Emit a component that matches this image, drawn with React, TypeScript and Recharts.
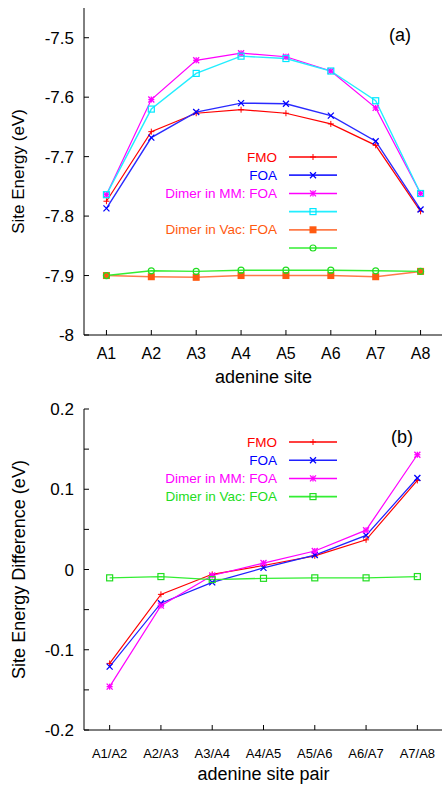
import React from 'react';
import { LineChart, Line, XAxis, YAxis, Legend, Label } from 'recharts';

// ---------- data: panel (a) ----------
const siteLabels = ['A1', 'A2', 'A3', 'A4', 'A5', 'A6', 'A7', 'A8'];
const siteFMO = [-7.775, -7.658, -7.627, -7.621, -7.627, -7.645, -7.681, -7.792];
const siteFOA = [-7.787, -7.668, -7.625, -7.610, -7.611, -7.631, -7.674, -7.789];
const siteMM = [-7.764, -7.604, -7.538, -7.526, -7.532, -7.556, -7.618, -7.762];
const siteMM2 = [-7.764, -7.620, -7.560, -7.531, -7.535, -7.556, -7.606, -7.762];
const siteVac = [-7.900, -7.902, -7.903, -7.900, -7.900, -7.900, -7.902, -7.893];
const siteVac2 = [-7.900, -7.892, -7.893, -7.891, -7.891, -7.891, -7.892, -7.893];
const siteYTicks = [-8, -7.9, -7.8, -7.7, -7.6, -7.5];
const siteYTickLabels = ['-8', '-7.9', '-7.8', '-7.7', '-7.6', '-7.5'];
const siteXTicks = [1, 2, 3, 4, 5, 6, 7, 8];

// ---------- data: panel (b) ----------
const pairLabels = ['A1/A2', 'A2/A3', 'A3/A4', 'A4/A5', 'A5/A6', 'A6/A7', 'A7/A8'];
const pairFMO = [-0.117, -0.031, -0.006, 0.005, 0.017, 0.037, 0.111];
const pairFOA = [-0.121, -0.042, -0.016, 0.002, 0.018, 0.0425, 0.114];
const pairMM = [-0.146, -0.045, -0.0075, 0.008, 0.023, 0.049, 0.143];
const pairVac = [-0.0104, -0.0088, -0.0125, -0.011, -0.0104, -0.0104, -0.0088];
const pairYTicks = [-0.2, -0.15, -0.1, -0.05, 0, 0.05, 0.1, 0.15, 0.2];
const pairYTickLabels = ['-0.2', '', '-0.1', '', '0', '', '0.1', '', '0.2'];
const pairXTicks = [1, 2, 3, 4, 5, 6, 7];

const FONT = '"Liberation Sans", Arial, Helvetica, sans-serif';

type MarkerType = 'plus' | 'cross' | 'star' | 'boxOpen' | 'boxFilled' | 'circleOpen';

interface SeriesDef {
  key: string;
  name: string;
  color: string;
  lineColor: string;
  marker: MarkerType;
  width: number;
}

const topSeries: SeriesDef[] = [
  { key: 'fmo', name: 'FMO', color: '#ff0000', lineColor: '#ff0000', marker: 'plus', width: 1.2 },
  { key: 'foa', name: 'FOA', color: '#0000ff', lineColor: '#2a2aff', marker: 'cross', width: 1.4 },
  { key: 'mm', name: 'Dimer in MM: FOA', color: '#ff00ff', lineColor: '#ff00ff', marker: 'star', width: 1.2 },
  { key: 'mm2', name: '', color: '#00e8ff', lineColor: '#22eeff', marker: 'boxOpen', width: 1.4 },
  { key: 'vac', name: 'Dimer in Vac: FOA', color: '#ff5a10', lineColor: '#ff7a48', marker: 'boxFilled', width: 1.5 },
  { key: 'vac2', name: '', color: '#22dd22', lineColor: '#33ee33', marker: 'circleOpen', width: 1.4 },
];

const bottomSeries: SeriesDef[] = [
  { key: 'fmo', name: 'FMO', color: '#ff0000', lineColor: '#ff0000', marker: 'plus', width: 1.2 },
  { key: 'foa', name: 'FOA', color: '#0000ff', lineColor: '#2020ff', marker: 'cross', width: 1.2 },
  { key: 'mm', name: 'Dimer in MM: FOA', color: '#ff00ff', lineColor: '#ff00ff', marker: 'star', width: 1.2 },
  { key: 'vac', name: 'Dimer in Vac: FOA', color: '#22dd22', lineColor: '#33ee33', marker: 'boxOpen', width: 1.3 },
];

const topData = siteLabels.map((label, i) => ({
  x: i + 1,
  label,
  fmo: siteFMO[i],
  foa: siteFOA[i],
  mm: siteMM[i],
  mm2: siteMM2[i],
  vac: siteVac[i],
  vac2: siteVac2[i],
}));

const bottomData = pairLabels.map((label, i) => ({
  x: i + 1,
  label,
  fmo: pairFMO[i],
  foa: pairFOA[i],
  mm: pairMM[i],
  vac: pairVac[i],
}));

function Marker({ type, x, y, color }: { type: MarkerType; x: number; y: number; color: string }) {
  const s = 3;
  switch (type) {
    case 'plus':
      return (
        <g stroke={color} strokeWidth={1}>
          <line x1={x - s} y1={y} x2={x + s} y2={y} />
          <line x1={x} y1={y - s} x2={x} y2={y + s} />
        </g>
      );
    case 'cross':
      return (
        <g stroke={color} strokeWidth={1.3}>
          <line x1={x - s} y1={y - s} x2={x + s} y2={y + s} />
          <line x1={x - s} y1={y + s} x2={x + s} y2={y - s} />
        </g>
      );
    case 'star':
      return (
        <g stroke={color} strokeWidth={1.3}>
          <line x1={x - s} y1={y} x2={x + s} y2={y} />
          <line x1={x} y1={y - s} x2={x} y2={y + s} />
          <line x1={x - s} y1={y - s} x2={x + s} y2={y + s} />
          <line x1={x - s} y1={y + s} x2={x + s} y2={y - s} />
        </g>
      );
    case 'boxOpen':
      return <rect x={x - 3} y={y - 3} width={6} height={6} fill="none" stroke={color} strokeWidth={1.2} />;
    case 'boxFilled':
      return <rect x={x - 3.5} y={y - 3.5} width={7} height={7} fill={color} stroke="none" />;
    case 'circleOpen':
      return <circle cx={x} cy={y} r={3} fill="none" stroke={color} strokeWidth={1.2} />;
    default:
      return null;
  }
}

function makeDot(def: SeriesDef) {
  return (props: any) => {
    const { cx, cy, index } = props;
    if (cx == null || cy == null) return <g key={`${def.key}-${index}`} />;
    return (
      <g key={`${def.key}-${index}`}>
        <Marker type={def.marker} x={cx} y={cy} color={def.color} />
      </g>
    );
  };
}

function LegendBox({ series }: { series: SeriesDef[] }) {
  const rowH = 18.2;
  const textRight = 97;
  const lineStart = 109;
  const lineEnd = 157;
  const h = series.length * rowH + 4;
  return (
    <svg width={170} height={h} style={{ display: 'block', overflow: 'visible' }}>
      {series.map((s, i) => {
        const y = 9 + i * rowH;
        return (
          <g key={s.key}>
            {s.name ? (
              <text
                x={textRight}
                y={y}
                textAnchor="end"
                dominantBaseline="central"
                fill={s.color}
                fontSize={13.5}
                fontFamily={FONT}
              >
                {s.name}
              </text>
            ) : null}
            <line x1={lineStart} y1={y} x2={lineEnd} y2={y} stroke={s.lineColor} strokeWidth={s.width + 0.3} />
            <Marker type={s.marker} x={(lineStart + lineEnd) / 2} y={y} color={s.color} />
          </g>
        );
      })}
    </svg>
  );
}

const tickStyle = (size: number) => ({ fill: '#000', fontSize: size, fontFamily: FONT });

function YTitle({ viewBox, text, size }: any) {
  const cx = 18.5;
  const cy = viewBox.y + viewBox.height / 2;
  return (
    <text
      x={cx}
      y={cy}
      transform={`rotate(-90 ${cx} ${cy})`}
      textAnchor="middle"
      dominantBaseline="central"
      fontSize={size}
      fontFamily={FONT}
      fill="#000"
    >
      {text}
    </text>
  );
}

export default function App() {
  return (
    <div
      style={{
        position: 'absolute',
        left: 0,
        top: 0,
        width: 442,
        height: 785,
        overflow: 'hidden',
        background: '#fff',
      }}
    >
      <div style={{ position: 'absolute', left: 0, top: 0 }}>
        <LineChart width={452} height={392} data={topData} margin={{ top: 8, right: 9, left: 0, bottom: 0 }}>
          <XAxis
            xAxisId="b"
            dataKey="x"
            type="number"
            domain={[0.5, 8.5]}
            ticks={siteXTicks}
            allowDataOverflow
            height={57}
            tickSize={-5}
            tickMargin={18}
            stroke="#000"
            tick={tickStyle(16)}
            tickFormatter={(v: number) => siteLabels[v - 1] ?? ''}
          >
            <Label value="adenine site" position="insideBottom" offset={9} fontSize={18} fontFamily={FONT} fill="#000" />
          </XAxis>
          <XAxis
            xAxisId="t"
            orientation="top"
            dataKey="x"
            type="number"
            domain={[0.5, 8.5]}
            ticks={siteXTicks}
            allowDataOverflow
            height={0}
            tickSize={-5}
            stroke="#000"
            tickFormatter={() => ''}
          />
          <YAxis
            yAxisId="l"
            type="number"
            domain={[-8, -7.45]}
            ticks={siteYTicks}
            allowDataOverflow
            width={84}
            tickSize={-5}
            tickMargin={15}
            stroke="#000"
            tick={tickStyle(17)}
            tickFormatter={(v: number) => siteYTickLabels[siteYTicks.indexOf(v)] ?? ''}
          >
            <Label content={(p: any) => <YTitle {...p} text="Site Energy (eV)" size={17} />} />
          </YAxis>
          <YAxis
            yAxisId="r"
            orientation="right"
            type="number"
            domain={[-8, -7.45]}
            ticks={siteYTicks}
            allowDataOverflow
            width={0}
            tickSize={-5}
            stroke="#000"
            tickFormatter={() => ''}
          />
          {topSeries.map((s) => (
            <Line
              key={s.key}
              xAxisId="b"
              yAxisId="l"
              dataKey={s.key}
              name={s.name || s.key}
              stroke={s.lineColor}
              strokeWidth={s.width}
              dot={makeDot(s)}
              activeDot={false}
              isAnimationActive={false}
            />
          ))}
          <Legend
            layout="vertical"
            align="center"
            verticalAlign="middle"
            wrapperStyle={{ left: 180, top: 148, width: 170, height: 115 }}
            content={() => <LegendBox series={topSeries} />}
          />
          <text x={400} y={35} textAnchor="middle" dominantBaseline="central" fontSize={18} fontFamily={FONT} fill="#000">
            (a)
          </text>
        </LineChart>
      </div>
      <div style={{ position: 'absolute', left: 0, top: 380 }}>
        <LineChart width={452} height={405} data={bottomData} margin={{ top: 29, right: 9, left: 0, bottom: 0 }}>
          <XAxis
            xAxisId="b"
            dataKey="x"
            type="number"
            domain={[0.5, 7.5]}
            ticks={pairXTicks}
            allowDataOverflow
            height={55}
            tickSize={-5}
            tickMargin={24}
            stroke="#000"
            tick={tickStyle(13)}
            tickFormatter={(v: number) => pairLabels[v - 1] ?? ''}
          >
            <Label value="adenine site pair" position="insideBottom" offset={5} fontSize={18} fontFamily={FONT} fill="#000" />
          </XAxis>
          <XAxis
            xAxisId="t"
            orientation="top"
            dataKey="x"
            type="number"
            domain={[0.5, 7.5]}
            ticks={pairXTicks}
            allowDataOverflow
            height={0}
            tickSize={-5}
            stroke="#000"
            tickFormatter={() => ''}
          />
          <YAxis
            yAxisId="l"
            type="number"
            domain={[-0.2, 0.2]}
            ticks={pairYTicks}
            allowDataOverflow
            width={84}
            tickSize={-5}
            tickMargin={15}
            stroke="#000"
            tick={tickStyle(17)}
            tickFormatter={(v: number) => pairYTickLabels[pairYTicks.indexOf(v)] ?? ''}
          >
            <Label content={(p: any) => <YTitle {...p} text="Site Energy Difference (eV)" size={18} />} />
          </YAxis>
          <YAxis
            yAxisId="r"
            orientation="right"
            type="number"
            domain={[-0.2, 0.2]}
            ticks={pairYTicks}
            allowDataOverflow
            width={0}
            tickSize={-5}
            stroke="#000"
            tickFormatter={() => ''}
          />
          {bottomSeries.map((s) => (
            <Line
              key={s.key}
              xAxisId="b"
              yAxisId="l"
              dataKey={s.key}
              name={s.name}
              stroke={s.lineColor}
              strokeWidth={s.width}
              dot={makeDot(s)}
              activeDot={false}
              isAnimationActive={false}
            />
          ))}
          <Legend
            layout="vertical"
            align="center"
            verticalAlign="middle"
            wrapperStyle={{ left: 180, top: 52.7, width: 170, height: 80 }}
            content={() => <LegendBox series={bottomSeries} />}
          />
          <text x={402} y={57} textAnchor="middle" dominantBaseline="central" fontSize={18} fontFamily={FONT} fill="#000">
            (b)
          </text>
        </LineChart>
      </div>
    </div>
  );
}
